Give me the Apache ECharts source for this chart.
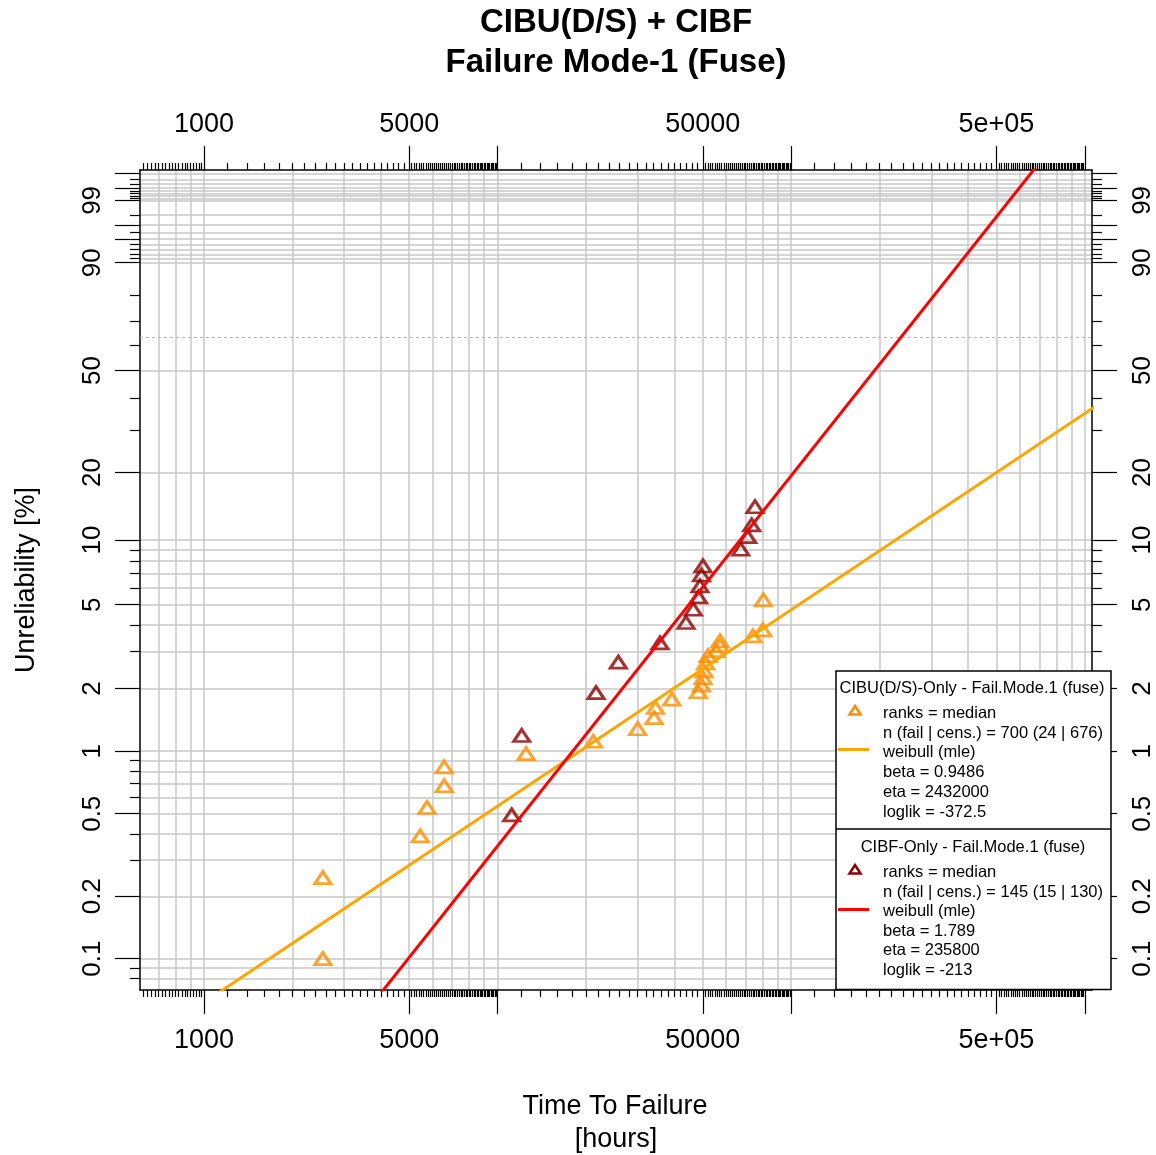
<!DOCTYPE html>
<html>
<head>
<meta charset="utf-8">
<script src="https://cdn.jsdelivr.net/npm/echarts@6.0.0/dist/echarts.min.js"></script>
<style>
html,body{margin:0;padding:0;background:#fff;}
#chart{width:1156px;height:1155px;}
</style>
</head>
<body>
<div id="chart"></div>
<script>
const FONT = '"Liberation Sans", Arial, Helvetica, sans-serif';

// ---------- data (hours, unreliability %) ----------
const cibuHours = [2540, 2540, 5450, 5750, 6580, 6580, 12500, 21200, 30000, 34100, 34500, 39200,
                   48300, 49500, 50100, 50500, 51100, 52100, 55400, 57200, 57200, 74000, 80000, 80400];
const cibuPct   = [0.100, 0.246, 0.391, 0.536, 0.682, 0.840, 0.974, 1.117, 1.283, 1.450, 1.62, 1.777,
                   1.927, 2.075, 2.244, 2.426, 2.65, 2.866, 3.03, 3.20, 3.37, 3.56, 3.80, 5.27];
const cibfHours = [11170, 12080, 21640, 25770, 35740, 43830, 46400, 48330, 48900, 49470, 50060,
                   67300, 71100, 73360, 75280];
const cibfPct   = [0.494, 1.19, 1.91, 2.67, 3.30, 4.12, 4.76, 5.44, 6.12, 6.89, 7.59,
                   9.07, 10.36, 11.72, 14.15];
// fitted weibull lines (end points)
const cibuFitHours = [1000, 1200000];
const cibuFitPct   = [0.0614, 40.05];
const cibfFitHours = [4000, 700000];
const cibfFitPct   = [0.068, 99.909];
const charLifePct = 63.21;

// ---------- axes ----------
const xRange = [605.4, 1058100];
const yRange = [0.07054, 99.843];
const xLabelValues = [1000, 5000, 50000, 500000];
const xLabelTexts  = ['1000', '5000', '50000', '5e+05'];
const xMajorTicks  = [1000, 5000, 10000, 50000, 100000, 500000, 1000000];
const yLabelValues = [0.1, 0.2, 0.5, 1, 2, 5, 10, 20, 50, 90, 99];
const yLabelTexts  = ['0.1', '0.2', '0.5', '1', '2', '5', '10', '20', '50', '90', '99'];
const yMajorTicks  = [0.1, 0.2, 0.5, 1, 2, 5, 10, 20, 50, 90, 95, 97, 99, 99.5, 99.8];
const yMinorTicks  = [0.08, 0.09, 0.3, 0.4, 0.6, 0.7, 0.8, 0.9, 3, 4, 6, 7, 8, 9, 30, 40, 60, 70, 80,
                      91, 92, 93, 94, 96, 98, 99.1, 99.2, 99.3, 99.4, 99.6, 99.7];
const yGridValues  = [0.08, 0.09, 0.1, 0.2, 0.3, 0.4, 0.5, 0.6, 0.7, 0.8, 0.9, 1, 2, 3, 4, 5, 6, 7, 8, 9,
                      10, 20, 50, 90, 91, 92, 93, 94, 95, 96, 97, 98, 99, 99.1, 99.2, 99.3, 99.4, 99.5,
                      99.6, 99.7, 99.8];
const xGridValues  = [700, 800, 900, 1000, 2000, 3000, 4000, 5000, 6000, 7000, 8000, 9000,
                      10000, 20000, 30000, 40000, 50000, 60000, 70000, 80000, 90000,
                      100000, 200000, 300000, 400000, 500000, 600000, 700000, 800000, 900000, 1000000];
function steps(a, b, s) { const o = []; for (let v = a; v <= b + 1e-9; v += s) o.push(Math.round(v)); return o; }
const xMinorTicks = [].concat(steps(620, 980, 20), steps(1200, 4800, 200), steps(5100, 9900, 100),
  steps(12000, 48000, 2000), steps(51000, 99000, 1000), steps(120000, 480000, 20000), steps(510000, 990000, 10000));

// legend text
const legendTitles = ['CIBU(D/S)-Only - Fail.Mode.1 (fuse)', 'CIBF-Only - Fail.Mode.1 (fuse)'];
const legendRows1 = ['ranks = median', 'n (fail | cens.) = 700 (24 | 676)', 'weibull (mle)',
                     'beta = 0.9486', 'eta = 2432000', 'loglik = -372.5'];
const legendRows2 = ['ranks = median', 'n (fail | cens.) = 145 (15 | 130)', 'weibull (mle)',
                     'beta = 1.789', 'eta = 235800', 'loglik = -213'];

// ---------- transforms ----------
const lg = v => Math.log10(v);
const wb = p => Math.log(-Math.log(1 - p / 100));
const xMin = lg(xRange[0]), xMax = lg(xRange[1]);
const yMin = wb(yRange[0]), yMax = wb(yRange[1]);
const zip = (xs, ys) => xs.map((x, i) => [lg(x), wb(ys[i])]);

function fmt(vals, texts, tf) {
  return function (v) {
    for (let i = 0; i < vals.length; i++) if (Math.abs(tf(vals[i]) - v) < 1e-6) return texts[i];
    return '';
  };
}

function xAx(position, ticks, len, labels, isGrid) {
  return {
    type: 'value', gridIndex: 0, position: position, min: xMin, max: xMax, z: isGrid ? 0 : 1,
    axisLine: { show: !labels && !isGrid, onZero: false, lineStyle: { color: '#000', width: 1.5 } },
    axisTick: { show: true, customValues: ticks.map(lg), length: len, inside: !!isGrid,
                lineStyle: isGrid ? { color: '#c8c8c8', width: 1.5 } : { color: '#000', width: 1.2 } },
    axisLabel: labels ? { show: true, customValues: xLabelValues.map(lg), formatter: fmt(xLabelValues, xLabelTexts, lg),
                          fontSize: 27, fontFamily: FONT, color: '#000', margin: position === 'bottom' ? 37 : 32 } : { show: false },
    splitLine: { show: false }, splitArea: { show: false }
  };
}
function yAx(position, ticks, len, labels, isGrid) {
  return {
    type: 'value', gridIndex: 0, position: position, min: yMin, max: yMax, z: isGrid ? 0 : 1,
    axisLine: { show: !labels && !isGrid, onZero: false, lineStyle: { color: '#000', width: 1.5 } },
    axisTick: { show: true, customValues: ticks.map(wb), length: len, inside: !!isGrid,
                lineStyle: isGrid ? { color: '#c8c8c8', width: 1.5 } : { color: '#000', width: 1.2 } },
    axisLabel: labels ? { show: true, customValues: yLabelValues.map(wb), formatter: fmt(yLabelValues, yLabelTexts, wb),
                          rotate: 90, fontSize: 26, fontFamily: FONT, color: '#000', margin: position === 'left' ? 34 : 38 } : { show: false },
    splitLine: { show: false }, splitArea: { show: false }
  };
}

const xAxes = [
  xAx('bottom', xMinorTicks, 7, false, false),
  xAx('bottom', xMajorTicks, 24, true, false),
  xAx('top', xMinorTicks, 7, false, false),
  xAx('top', xMajorTicks, 24, true, false),
  xAx('bottom', xGridValues, 820, false, true)
];
const yAxes = [
  yAx('left', yMinorTicks, 10, false, false),
  yAx('left', yMajorTicks, 25, true, false),
  yAx('right', yMinorTicks, 10, false, false),
  yAx('right', yMajorTicks, 25, true, false),
  yAx('left', yGridValues, 952, false, true)
];

// ---------- graphic (titles + legend box) ----------
function txt(x, y, text, font, align, rot) {
  return { type: 'text', x: x, y: y, rotation: rot || 0, z: 101, silent: true,
    style: { text: text, font: font, fill: '#000', align: align || 'center', textAlign: align || 'center',
             verticalAlign: 'middle', textVerticalAlign: 'middle' } };
}
const titleFont = 'bold 33px ' + FONT;
const axFont = '27px ' + FONT;
const legFont = '16.5px ' + FONT;
const LX = 836, LY = 671, LW = 275, LH = 318.5, LDIV = 829;
const gElems = [
  txt(616, 23, 'CIBU(D/S) + CIBF', titleFont),
  txt(616, 63, 'Failure Mode-1 (Fuse)', titleFont),
  txt(615, 1107, 'Time To Failure', axFont),
  txt(616, 1140, '[hours]', axFont),
  txt(27, 580, 'Unreliability [%]', axFont, 'center', Math.PI / 2),
  { type: 'rect', z: 100, silent: true, shape: { x: LX, y: LY, width: LW, height: LH },
    style: { fill: '#fff', stroke: '#000', lineWidth: 1.5 } },
  { type: 'line', z: 101, silent: true, shape: { x1: LX, y1: LDIV, x2: LX + LW, y2: LDIV },
    style: { stroke: '#000', lineWidth: 1.5 } },
  txt(972, 688, legendTitles[0], legFont),
  txt(973, 847, legendTitles[1], legFont),
  { type: 'polygon', z: 101, silent: true, shape: { points: [[855, 706], [860.5, 714.5], [849.5, 714.5]] },
    style: { fill: 'none', stroke: '#FF8C00', lineWidth: 2.5 } },
  { type: 'polygon', z: 101, silent: true, shape: { points: [[855, 865], [860.5, 873.5], [849.5, 873.5]] },
    style: { fill: 'none', stroke: '#8B0000', lineWidth: 2.5 } },
  { type: 'line', z: 101, silent: true, shape: { x1: 838, y1: 749.5, x2: 869, y2: 749.5 },
    style: { stroke: '#FFA500', lineWidth: 3 } },
  { type: 'line', z: 101, silent: true, shape: { x1: 838, y1: 909.5, x2: 869, y2: 909.5 },
    style: { stroke: '#FF0000', lineWidth: 3 } }
];
legendRows1.forEach((t, i) => gElems.push(txt(883, 713.5 + i * 19.7, t, legFont, 'left')));
legendRows2.forEach((t, i) => gElems.push(txt(883, 872.5 + i * 19.6, t, legFont, 'left')));

// ---------- option ----------
const option = {
  animation: false,
  backgroundColor: '#ffffff',
  textStyle: { fontFamily: FONT },
  grid: { left: 140, top: 170, width: 952, height: 820, containLabel: false, outerBoundsMode: 'none' },
  xAxis: xAxes,
  yAxis: yAxes,
  series: [
    { type: 'line', name: 'CIBU fit', xAxisIndex: 0, yAxisIndex: 0, data: zip(cibuFitHours, cibuFitPct),
      symbol: 'none', clip: true, z: 5, silent: true,
      lineStyle: { color: '#FFA500', width: 3 },
      markLine: { silent: true, symbol: ['none', 'none'], label: { show: false }, animation: false,
                  lineStyle: { color: '#b5b5b5', type: [3, 3], width: 1.2 },
                  data: [{ yAxis: wb(charLifePct) }] } },
    { type: 'line', name: 'CIBF fit', xAxisIndex: 0, yAxisIndex: 0, data: zip(cibfFitHours, cibfFitPct),
      symbol: 'none', clip: true, z: 5, silent: true,
      lineStyle: { color: '#FF0000', width: 3 } },
    { type: 'scatter', name: 'CIBU', xAxisIndex: 0, yAxisIndex: 0, data: zip(cibuHours, cibuPct),
      symbol: 'triangle', symbolSize: [16, 12], z: 4, silent: true,
      itemStyle: { color: 'rgba(0,0,0,0)', borderColor: '#FF8C00', borderWidth: 3 } },
    { type: 'scatter', name: 'CIBF', xAxisIndex: 0, yAxisIndex: 0, data: zip(cibfHours, cibfPct),
      symbol: 'triangle', symbolSize: [16, 12], z: 4, silent: true,
      itemStyle: { color: 'rgba(0,0,0,0)', borderColor: '#8B0000', borderWidth: 3 } }
  ],
  graphic: { elements: gElems }
};

const chart = echarts.init(document.getElementById('chart'), null, { renderer: 'canvas' });
chart.setOption(option);
</script>
</body>
</html>
